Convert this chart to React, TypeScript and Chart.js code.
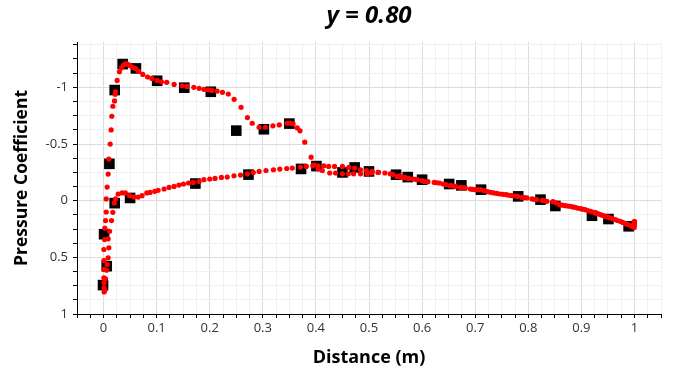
import React, { useEffect, useRef } from 'react';
import { Chart, registerables } from 'chart.js';

Chart.register(...registerables);

// Experimental (black squares)
const expX = [-0.001, 0.006, 0.001, 0.011, 0.021, 0.036, 0.061, 0.101, 0.152, 0.202, 0.250, 0.302, 0.350, 0.372, 0.401, 0.450, 0.473, 0.500, 0.551, 0.573, 0.600, 0.651, 0.674, 0.711, 0.781, 0.823, 0.851, 0.920, 0.951, 0.989, 0.021, 0.050, 0.173, 0.273];
const expY = [0.745, 0.578, 0.296, -0.325, -0.976, -1.205, -1.167, -1.058, -0.997, -0.961, -0.618, -0.630, -0.680, -0.280, -0.305, -0.249, -0.293, -0.258, -0.229, -0.208, -0.185, -0.147, -0.135, -0.097, -0.038, -0.009, 0.047, 0.133, 0.162, 0.226, 0.022, -0.024, -0.151, -0.230];

// CFD upper surface (red dots)
const cfdUpperX = [0.001, 0.001, 0.001, 0.0006, 0.0012, 0.0006, 0.0006, 0.0019, 0.0024, 0.0038, 0.005, 0.005, 0.0068, 0.0087, 0.010, 0.0125, 0.0143, 0.0156, 0.0175, 0.0207, 0.0218, 0.0226, 0.0256, 0.030, 0.034, 0.0376, 0.041, 0.045, 0.049, 0.054, 0.060, 0.066, 0.074, 0.083, 0.091, 0.101, 0.109, 0.119, 0.133, 0.148, 0.157, 0.170, 0.180, 0.189, 0.197, 0.204, 0.214, 0.224, 0.235, 0.246, 0.259, 0.271, 0.280, 0.293, 0.305, 0.319, 0.331, 0.346, 0.352, 0.357, 0.365, 0.370, 0.379, 0.391, 0.396, 0.404, 0.412, 0.426, 0.437, 0.450, 0.461, 0.471, 0.484, 0.497, 0.505, 0.517, 0.530, 0.545, 0.558, 0.571, 0.588, 0.611, 0.628, 0.640, 0.658, 0.677, 0.695, 0.705, 0.717, 0.729, 0.741, 0.753, 0.764, 0.775, 0.793, 0.811, 0.830, 0.853, 0.864, 0.874, 0.884, 0.893, 0.902, 0.912, 0.921, 0.931, 0.940, 0.950, 0.959, 0.968, 0.978, 0.987, 0.996, 1.000, 1.000];
const cfdUpperY = [0.806, 0.768, 0.724, 0.680, 0.607, 0.528, 0.431, 0.343, 0.243, 0.176, 0.100, -0.015, -0.120, -0.235, -0.367, -0.499, -0.624, -0.745, -0.833, -0.880, -0.938, -0.961, -1.061, -1.137, -1.172, -1.196, -1.208, -1.205, -1.193, -1.178, -1.167, -1.143, -1.114, -1.091, -1.079, -1.061, -1.049, -1.044, -1.026, -1.014, -1.008, -1.000, -0.991, -0.982, -0.978, -0.973, -0.967, -0.956, -0.941, -0.894, -0.824, -0.733, -0.683, -0.648, -0.648, -0.660, -0.668, -0.683, -0.683, -0.677, -0.642, -0.616, -0.516, -0.384, -0.317, -0.281, -0.266, -0.244, -0.244, -0.237, -0.237, -0.237, -0.237, -0.237, -0.244, -0.249, -0.244, -0.232, -0.218, -0.200, -0.188, -0.168, -0.158, -0.147, -0.130, -0.115, -0.100, -0.097, -0.088, -0.074, -0.064, -0.056, -0.048, -0.041, -0.026, -0.012, 0.000, 0.020, 0.040, 0.047, 0.055, 0.065, 0.075, 0.087, 0.100, 0.115, 0.130, 0.145, 0.160, 0.175, 0.192, 0.210, 0.228, 0.200, 0.218];

// CFD lower surface (red dots)
const cfdLowerX = [0.0025, 0.0038, 0.0056, 0.0068, 0.0087, 0.010, 0.0087, 0.0113, 0.015, 0.0175, 0.020, 0.0226, 0.0275, 0.035, 0.041, 0.049, 0.057, 0.065, 0.0726, 0.0815, 0.0877, 0.0965, 0.1027, 0.114, 0.1234, 0.1328, 0.142, 0.1505, 0.160, 0.169, 0.180, 0.189, 0.200, 0.210, 0.222, 0.233, 0.2457, 0.258, 0.271, 0.282, 0.293, 0.306, 0.320, 0.332, 0.345, 0.3555, 0.371, 0.382, 0.394, 0.404, 0.415, 0.424, 0.435, 0.450, 0.462, 0.473, 0.484, 0.495, 0.506, 0.518, 0.540, 0.553, 0.5606, 0.567, 0.575, 0.583, 0.591, 0.600, 0.604, 0.623, 0.633, 0.645, 0.653, 0.663, 0.672, 0.6815, 0.691, 0.700, 0.710, 0.7235, 0.735, 0.747, 0.759, 0.769, 0.780, 0.788, 0.7976, 0.807, 0.816, 0.826, 0.835, 0.8465, 0.859, 0.8697, 0.879, 0.888, 0.898, 0.907, 0.917, 0.926, 0.9355, 0.945, 0.954, 0.964, 0.973, 0.9825, 0.992, 0.9995, 1.000];
const cfdLowerY = [0.790, 0.689, 0.613, 0.563, 0.504, 0.416, 0.337, 0.270, 0.176, 0.103, 0.020, -0.015, -0.059, -0.068, -0.068, -0.044, -0.032, -0.032, -0.044, -0.068, -0.073, -0.082, -0.091, -0.103, -0.117, -0.126, -0.138, -0.147, -0.156, -0.161, -0.170, -0.185, -0.191, -0.196, -0.205, -0.208, -0.220, -0.226, -0.237, -0.249, -0.258, -0.266, -0.273, -0.279, -0.284, -0.288, -0.296, -0.302, -0.308, -0.308, -0.308, -0.302, -0.302, -0.302, -0.293, -0.288, -0.273, -0.266, -0.258, -0.250, -0.237, -0.214, -0.205, -0.205, -0.196, -0.191, -0.185, -0.176, -0.170, -0.161, -0.156, -0.141, -0.132, -0.126, -0.117, -0.112, -0.103, -0.097, -0.097, -0.079, -0.068, -0.059, -0.053, -0.044, -0.038, -0.029, -0.024, -0.015, -0.009, -0.003, 0.006, 0.009, 0.035, 0.044, 0.050, 0.059, 0.070, 0.079, 0.094, 0.108, 0.123, 0.138, 0.152, 0.167, 0.182, 0.202, 0.220, 0.237, 0.182];

const TITLE = 'y = 0.80';
const X_TITLE = 'Distance (m)';
const Y_TITLE = 'Pressure Coefficient';
const X_MIN = -0.05;
const X_MAX = 1.05;
const Y_MIN = -1.4;
const Y_MAX = 1;

const FONT = 'Open Sans';

function pts(xs: number[], ys: number[]) {
  return xs.map((x, i) => ({ x, y: ys[i] }));
}

function near(v: number, step: number) {
  const q = v / step;
  return Math.abs(q - Math.round(q)) < 1e-6;
}

function fmt(v: number) {
  return String(Math.round(v * 10) / 10);
}

// Title centred over the plot area (not over the whole canvas)
const plotTitle = {
  id: 'plotTitle',
  afterDraw(chart: any) {
    const { ctx, chartArea } = chart;
    ctx.save();
    ctx.font = `italic bold 24px "${FONT}"`;
    ctx.fillStyle = '#000';
    ctx.textAlign = 'center';
    ctx.textBaseline = 'middle';
    ctx.fillText(TITLE, (chartArea.left + chartArea.right) / 2, 16);
    ctx.restore();
  },
};

export default function App() {
  const ref = useRef<HTMLCanvasElement | null>(null);

  useEffect(() => {
    if (!ref.current) return;
    const chart = new Chart(ref.current, {
      type: 'scatter',
      data: {
        datasets: [
          {
            label: 'CFD upper',
            data: pts(cfdUpperX, cfdUpperY),
            pointStyle: 'circle',
            pointRadius: 2.6,
            pointBackgroundColor: '#ff0000',
            pointBorderWidth: 0,
            showLine: false,
          },
          {
            label: 'CFD lower',
            data: pts(cfdLowerX, cfdLowerY),
            pointStyle: 'circle',
            pointRadius: 2.6,
            pointBackgroundColor: '#ff0000',
            pointBorderWidth: 0,
            showLine: false,
          },
          {
            label: 'Experiment',
            data: pts(expX, expY),
            pointStyle: 'rect',
            pointRadius: 7.5,
            pointBackgroundColor: '#000000',
            pointBorderWidth: 0,
            showLine: false,
          },
        ],
      },
      options: {
        animation: false,
        responsive: false,
        devicePixelRatio: 1,
        layout: { padding: { left: 0, right: 20, top: 42, bottom: 0 } },
        plugins: {
          legend: { display: false },
          tooltip: { enabled: false },
          title: { display: false },
        },
        scales: {
          x: {
            type: 'linear',
            min: X_MIN,
            max: X_MAX,
            border: { color: '#000', width: 1 },
            grid: {
              color: (ctx: any) => (ctx.tick && near(ctx.tick.value, 0.1) ? '#dcdcdc' : '#f0f0f0'),
              tickColor: '#000',
              tickLength: 4,
            },
            ticks: {
              stepSize: 0.025,
              autoSkip: false,
              maxRotation: 0,
              includeBounds: false,
              padding: 2,
              color: '#333',
              font: { family: FONT, size: 13 },
              callback: (v: any) => (near(Number(v), 0.1) ? fmt(Number(v)) : ''),
            },
            title: {
              display: true,
              text: X_TITLE,
              color: '#000',
              font: { family: FONT, size: 18, weight: 'bold' },
              padding: { top: 0, bottom: 3.2 },
            },
            afterFit: (s: any) => {
              s.height = 58;
            },
          },
          y: {
            type: 'linear',
            min: Y_MIN,
            max: Y_MAX,
            reverse: true,
            border: { color: '#000', width: 1 },
            grid: {
              color: (ctx: any) => (ctx.tick && near(ctx.tick.value, 0.5) ? '#dcdcdc' : '#f0f0f0'),
              tickColor: '#000',
              tickLength: 4,
            },
            ticks: {
              stepSize: 0.125,
              autoSkip: false,
              includeBounds: false,
              padding: 5,
              color: '#333',
              font: { family: FONT, size: 13 },
              callback: (v: any) => (near(Number(v), 0.5) ? fmt(Number(v)) : ''),
            },
            title: {
              display: true,
              text: Y_TITLE,
              color: '#000',
              font: { family: FONT, size: 17.5, weight: 'bold' },
              padding: { top: 12, bottom: 0 },
            },
            afterFit: (s: any) => {
              s.width = 77;
            },
          },
        },
      },
      plugins: [plotTitle],
    } as any);
    return () => chart.destroy();
  }, []);

  return (
    <div style={{ position: 'fixed', left: 0, top: 0, width: 681, height: 372, background: '#fff' }}>
      <canvas ref={ref} width={681} height={372} style={{ display: 'block', width: 681, height: 372 }} />
    </div>
  );
}
